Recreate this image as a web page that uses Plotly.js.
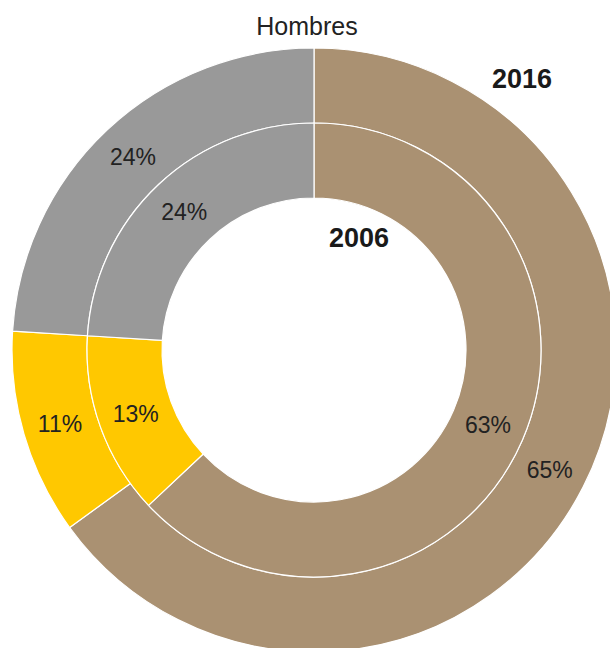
<!DOCTYPE html>
<html>
<head>
<meta charset="utf-8">
<script src="https://cdn.plot.ly/plotly-3.0.1.min.js"></script>
<style>
html, body { margin: 0; padding: 0; overflow: hidden; background: #fff; }
#chart { width: 620px; height: 660px; }
</style>
</head>
<body>
<div id="chart"></div>
<script>
const categories = ["Grupo A", "Grupo B", "Grupo C"];
const values2016 = [65, 11, 24];
const values2006 = [63, 13, 24];
const colors = ["#AA9172", "#FFC800", "#999999"];
const title = "Hombres";
const yearOuter = "2016";
const yearInner = "2006";

const W = 620, H = 660;
const cx = 314, cy = 350, rOuter = 302, rMid = 227, rInner = 152;
const FONT = "Liberation Sans, Arial, sans-serif";

function dom(r) {
  return {
    x: [(cx - r) / W, (cx + r) / W],
    y: [(H - (cy + r)) / H, (H - (cy - r)) / H]
  };
}

const common = {
  type: "pie",
  labels: categories,
  sort: false,
  direction: "clockwise",
  rotation: 0,
  marker: { colors: colors, line: { color: "#ffffff", width: 1.2 } },
  texttemplate: "%{value}%",
  textposition: "inside",
  insidetextorientation: "horizontal",
  textfont: { family: FONT, size: 23, color: "#222222" },
  hoverinfo: "label+value",
  showlegend: false
};

const outer = Object.assign({}, common, {
  values: values2016,
  hole: rMid / rOuter,
  domain: dom(rOuter),
  name: yearOuter
});
const inner = Object.assign({}, common, {
  values: values2006,
  hole: rInner / rMid,
  domain: dom(rMid),
  name: yearInner
});

const layout = {
  width: W, height: H,
  margin: { l: 0, r: 0, t: 0, b: 0 },
  paper_bgcolor: "#ffffff",
  title: {
    text: title,
    x: 307 / W, xanchor: "center",
    y: 1 - 26 / H, yanchor: "middle",
    font: { family: FONT, size: 25, color: "#222222" }
  },
  annotations: [
    { text: "<b>" + yearOuter + "</b>", x: 522 / W, y: 1 - 79 / H, xref: "paper", yref: "paper",
      showarrow: false, xanchor: "center", yanchor: "middle",
      font: { family: FONT, size: 27, color: "#1a1a1a" } },
    { text: "<b>" + yearInner + "</b>", x: 359 / W, y: 1 - 238 / H, xref: "paper", yref: "paper",
      showarrow: false, xanchor: "center", yanchor: "middle",
      font: { family: FONT, size: 27, color: "#1a1a1a" } }
  ]
};

Plotly.newPlot("chart", [outer, inner], layout, { displayModeBar: false, staticPlot: true });
</script>
</body>
</html>
